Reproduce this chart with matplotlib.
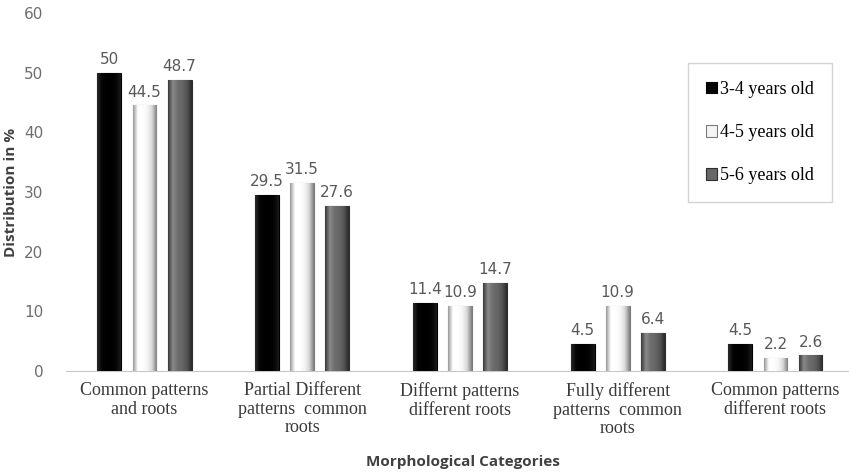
import matplotlib.pyplot as plt
import numpy as np
from matplotlib.colors import LinearSegmentedColormap

categories = ["Common patterns\nand roots", "Partial Different\npatterns  common\nroots",
              "Differnt patterns\ndifferent roots", "Fully different\npatterns  common\nroots",
              "Common patterns\ndifferent roots"]
series_names = ["3-4 years old", "4-5 years old", "5-6 years old"]
age_34 = [50, 29.5, 11.4, 4.5, 4.5]
age_45 = [44.5, 31.5, 10.9, 10.9, 2.2]
age_56 = [48.7, 27.6, 14.7, 6.4, 2.6]

faces = ["#050505", "#f4f4f4", "#676767"]
edges = ["#000000", "#7a7a7a", "#2e2e2e"]
# horizontal shading across each bar, to mimic the bevelled look
shades = [["#2a2a2a", "#050505", "#000000", "#000000", "#050505", "#1a1a1a"],
          ["#9a9a9a", "#ffffff", "#ffffff", "#f6f6f6", "#d8d8d8", "#808080"],
          ["#3a3a3a", "#8a8a8a", "#6e6e6e", "#666666", "#555555", "#2a2a2a"]]

fig = plt.figure(figsize=(8.49, 4.74), dpi=100)
ax = fig.add_axes([0.0773, 0.2173, 0.9227, 0.7553])

x = np.arange(len(categories))
w = 0.152
step = 0.222
grad = np.linspace(0, 1, 64).reshape(1, -1)
for i, vals in enumerate([age_34, age_45, age_56]):
    bars = ax.bar(x + (i - 1) * step, vals, w, color=faces[i], edgecolor=edges[i],
                  linewidth=0.8, label=series_names[i], zorder=2)
    cmap = LinearSegmentedColormap.from_list(f"s{i}", shades[i])
    for b, v in zip(bars, vals):
        x0 = b.get_x()
        im = ax.imshow(grad, cmap=cmap, aspect="auto", extent=(x0, x0 + b.get_width(), 0, v),
                       zorder=3, interpolation="bilinear")
        im.set_clip_path(b)
        ax.text(x0 + b.get_width() / 2, v + 1.0, f"{v:g}", ha="center", va="bottom",
                fontsize=11, color="#595959")

ax.set_xlim(-0.5, 4.466)
ax.set_ylim(0, 60)
ax.set_yticks(range(0, 61, 10))
ax.tick_params(axis="y", length=0, labelsize=11, labelcolor="#6e6e6e", pad=16)
ax.tick_params(axis="x", length=0, pad=8)
ax.set_xticks(x)
ax.set_xticklabels(categories, fontsize=13, family="Liberation Serif", color="#3a3a3a",
                   linespacing=1.12)
for s in ["top", "right", "left"]:
    ax.spines[s].set_visible(False)
ax.spines["bottom"].set_color("#c8c8c8")

ax.set_ylabel("Distribution in %", fontsize=11, fontweight="bold", color="#404040",
              family="Open Sans", labelpad=4)
fig.text(0.545, 0.025, "Morphological Categories", ha="center", va="center", fontsize=11,
         fontweight="bold", color="#404040", family="Open Sans")

leg = fig.legend(loc="upper left", bbox_to_anchor=(688 / 849, 1 - 63 / 474),
                 prop={"family": "Liberation Serif", "size": 13},
                 frameon=True, fancybox=False, edgecolor="#c8c8c8", handlelength=0.6,
                 handleheight=0.6, handletextpad=0.2, labelspacing=1.45, borderpad=1.0,
                 borderaxespad=0)
leg.get_frame().set_linewidth(1.0)

fig.savefig("out.png", dpi=100)
